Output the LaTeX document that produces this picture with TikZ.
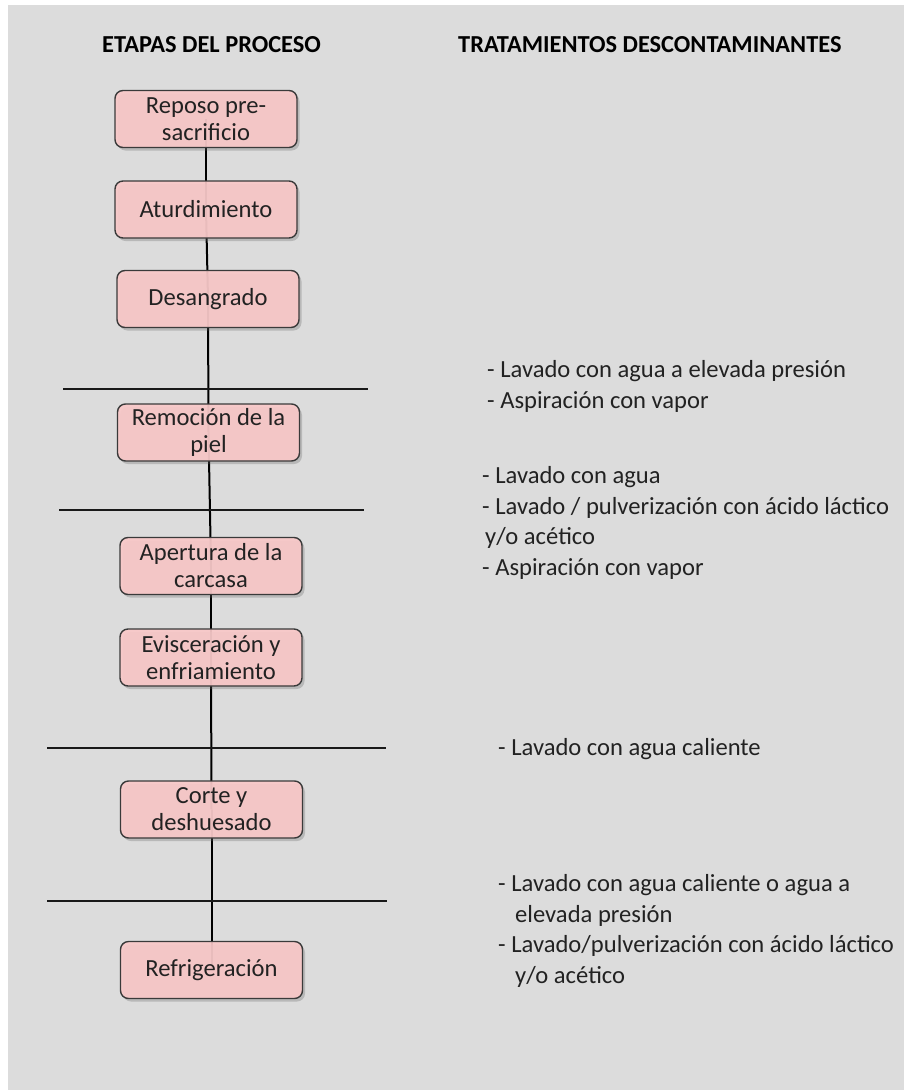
\documentclass[tikz,border=0pt]{standalone}
\usepackage{fontspec}
\setmainfont{Carlito}
\usetikzlibrary{shadows,backgrounds}
\definecolor{bg}{HTML}{DCDCDC}
\definecolor{boxfill}{HTML}{F8C8C8}
\definecolor{boxdraw}{HTML}{3A3A3A}
\definecolor{txt}{HTML}{222222}
\begin{document}
\begin{tikzpicture}[x=1pt,y=-1pt,
  stage/.style={draw=boxdraw, line width=1.4pt, fill=boxfill, fill opacity=0.93, text opacity=1,
    rounded corners=8pt, minimum width=182pt, minimum height=57pt, inner sep=0pt,
    align=center, text=txt, font=\fontsize{24.6}{27}\selectfont,
    drop shadow={shadow xshift=2.5pt, shadow yshift=-3pt, opacity=0.3, fill=black!60}},
  link/.style={line width=2pt, black},
  sep/.style={line width=2pt, black!90},
  head/.style={font=\bfseries\fontsize{24.4}{30}\selectfont, text=black, inner sep=0pt, anchor=base west},
  treat/.style={font=\fontsize{24.6}{30.5}\selectfont, text=txt, align=left, inner sep=0pt, anchor=north west}]
\useasboundingbox (0,0) rectangle (904,1090);

\node[head] (h-left) at (102,52) {ETAPAS DEL PROCESO};
\node[head] (h-right) at (458,52) {TRATAMIENTOS DESCONTAMINANTES};

\node[stage] (b1) at (206,119) {Reposo pre-\\sacrificio};
\node[stage] (b2) at (206,209.5) {Aturdimiento};
\node[stage] (b3) at (208,299) {Desangrado};
\node[stage] (b4) at (208.5,432.5) {Remoción de la\\piel};
\node[stage] (b5) at (211,566) {Apertura de la\\carcasa};
\node[stage] (b6) at (211,657.5) {Evisceración y\\enfriamiento};
\node[stage] (b7) at (211.5,809.5) {Corte y\\deshuesado};
\node[stage] (b8) at (211.5,970) {Refrigeración};

\begin{pgfonlayer}{background}
  \fill[bg] (8,5) rectangle (904,1090);
  \draw[link] (b1.center) -- (b2.center);
  \draw[link] (b2.center) -- (b3.center);
  \draw[link] (b3.center) -- (b4.center);
  \draw[link] (b4.center) -- (b5.center);
  \draw[link] (b5.center) -- (b6.center);
  \draw[link] (b6.center) -- (b7.center);
  \draw[link] (b7.center) -- (b8.center);
\end{pgfonlayer}

\coordinate (s1a) at (63,389);  \coordinate (s1b) at (368,389);
\coordinate (s2a) at (59,510);  \coordinate (s2b) at (364,510);
\coordinate (s3a) at (47,748);  \coordinate (s3b) at (386,748);
\coordinate (s4a) at (47,901);  \coordinate (s4b) at (387,901);
\draw[sep] (s1a) -- (s1b);
\draw[sep] (s2a) -- (s2b);
\draw[sep] (s3a) -- (s3b);
\draw[sep] (s4a) -- (s4b);

\node[treat] (t1) at (487,356) {\strut- Lavado con agua a elevada presión\\- Aspiración con vapor};
\node[treat] (t2) at (482,462) {\strut- Lavado con agua\\- Lavado / pulverización con ácido láctico\\\hspace*{3pt}y/o acético\\- Aspiración con vapor};
\node[treat] (t3) at (498,734) {\strut- Lavado con agua caliente};
\node[treat] (t4) at (498,870) {\strut- Lavado con agua caliente o agua a\\\hspace*{17pt}elevada presión\\- Lavado/pulverización con ácido láctico\\\hspace*{17pt}y/o acético};
\end{tikzpicture}
\end{document}
